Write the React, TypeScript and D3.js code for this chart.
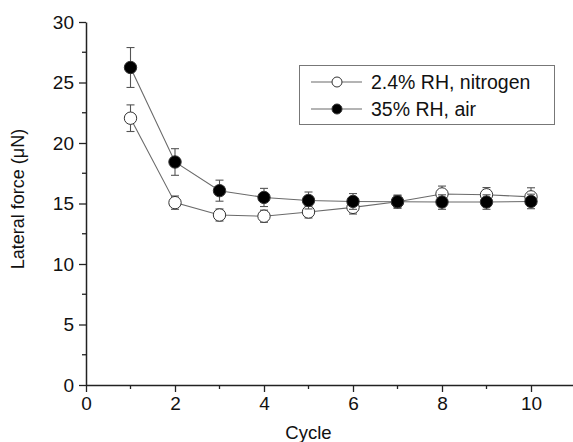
import React, { useEffect, useRef } from "react";
import * as d3 from "d3";

const cycles = [1, 2, 3, 4, 5, 6, 7, 8, 9, 10];
const nitrogen = [22.05, 15.07, 14.05, 13.95, 14.3, 14.68, 15.15, 15.79, 15.72, 15.55];
const nitrogenErr = [1.1, 0.55, 0.5, 0.5, 0.5, 0.55, 0.5, 0.65, 0.6, 0.75];
const air = [26.24, 18.43, 16.06, 15.5, 15.25, 15.17, 15.15, 15.12, 15.12, 15.17];
const airErr = [1.65, 1.1, 0.87, 0.75, 0.7, 0.65, 0.55, 0.6, 0.6, 0.6];
const xTicks = [0, 2, 4, 6, 8, 10];
const xMinor = [1, 3, 5, 7, 9];
const yTicks = [0, 5, 10, 15, 20, 25, 30];
const yMinor = [2.5, 7.5, 12.5, 17.5, 22.5, 27.5];
const seriesNames = ["2.4% RH, nitrogen", "35% RH, air"];

const W = 573;
const H = 442;
const FONT = "'Liberation Sans', Arial, sans-serif";

export default function App() {
  const ref = useRef<SVGSVGElement | null>(null);

  useEffect(() => {
    const svg = d3.select(ref.current);
    svg.selectAll("*").remove();

    const x = d3.scaleLinear().domain([0, 11]).range([86, 86 + 44.5 * 11]);
    const y = d3.scaleLinear().domain([0, 30]).range([385, 22]);
    const axisColor = "#222";

    // X axis
    const gx = svg.append("g").attr("transform", `translate(0,${y(0)})`);
    gx.call(
      d3.axisBottom(x).tickValues(xTicks).tickSize(7).tickSizeOuter(0).tickPadding(5).tickFormat(d3.format("d"))
    );
    const gxm = svg.append("g").attr("transform", `translate(0,${y(0)})`);
    gxm.selectAll("line").data(xMinor).enter().append("line")
      .attr("x1", d => x(d)).attr("x2", d => x(d)).attr("y1", 0).attr("y2", 4)
      .attr("stroke", axisColor).attr("stroke-width", 1.3);

    // Y axis
    const gy = svg.append("g").attr("transform", `translate(${x(0)},0)`);
    gy.call(
      d3.axisLeft(y).tickValues(yTicks).tickSize(7).tickSizeOuter(0).tickPadding(5).tickFormat(d3.format("d"))
    );
    const gym = svg.append("g").attr("transform", `translate(${x(0)},0)`);
    gym.selectAll("line").data(yMinor).enter().append("line")
      .attr("x1", 0).attr("x2", -4).attr("y1", d => y(d)).attr("y2", d => y(d))
      .attr("stroke", axisColor).attr("stroke-width", 1.3);

    [gx, gy].forEach(g => {
      g.select(".domain").attr("stroke", axisColor).attr("stroke-width", 1.5);
      g.selectAll(".tick line").attr("stroke", axisColor).attr("stroke-width", 1.3);
      g.selectAll(".tick text").attr("fill", "#111").attr("font-size", 19).attr("font-family", FONT);
    });

    // Axis titles
    svg.append("text")
      .attr("x", x(5)).attr("y", 439)
      .attr("text-anchor", "middle").attr("font-family", FONT).attr("font-size", 18.5).attr("fill", "#111")
      .text("Cycle");
    svg.append("text")
      .attr("transform", `translate(24,${(130 + 268) / 2}) rotate(-90)`)
      .attr("text-anchor", "middle").attr("font-family", FONT).attr("font-size", 18).attr("fill", "#111")
      .text("Lateral force (\u03bcN)");

    const lineColor = "#6a6a6a";
    const drawSeries = (vals: number[], errs: number[], fill: string) => {
      const g = svg.append("g");
      const line = d3.line<number>().x((_, i) => x(cycles[i])).y(d => y(d));
      g.append("path").attr("d", line(vals)).attr("fill", "none")
        .attr("stroke", lineColor).attr("stroke-width", 1.1);
      const eb = g.selectAll("g.eb").data(vals).enter().append("g");
      eb.append("line")
        .attr("x1", (_, i) => x(cycles[i])).attr("x2", (_, i) => x(cycles[i]))
        .attr("y1", (d, i) => y(d + errs[i])).attr("y2", (d, i) => y(d - errs[i]))
        .attr("stroke", "#555").attr("stroke-width", 1.1);
      [1, -1].forEach(s => {
        eb.append("line")
          .attr("x1", (_, i) => x(cycles[i]) - 4).attr("x2", (_, i) => x(cycles[i]) + 4)
          .attr("y1", (d, i) => y(d + s * errs[i])).attr("y2", (d, i) => y(d + s * errs[i]))
          .attr("stroke", "#555").attr("stroke-width", 1.1);
      });
      g.selectAll("circle").data(vals).enter().append("circle")
        .attr("cx", (_, i) => x(cycles[i])).attr("cy", d => y(d)).attr("r", 6.2)
        .attr("fill", fill).attr("stroke", "#333").attr("stroke-width", 1);
    };
    drawSeries(nitrogen, nitrogenErr, "#fff");
    drawSeries(air, airErr, "#000");

    // Legend
    const lg = svg.append("g");
    lg.append("rect").attr("x", 299.5).attr("y", 65.5).attr("width", 255).attr("height", 59)
      .attr("fill", "#fff").attr("stroke", "#777").attr("stroke-width", 1);
    const fills = ["#fff", "#000"];
    const rows = [82, 109];
    seriesNames.forEach((name, i) => {
      lg.append("line").attr("x1", 311).attr("x2", 362).attr("y1", rows[i]).attr("y2", rows[i])
        .attr("stroke", lineColor).attr("stroke-width", 1.1);
      lg.append("circle").attr("cx", 337).attr("cy", rows[i]).attr("r", 5)
        .attr("fill", fills[i]).attr("stroke", "#333").attr("stroke-width", 1);
      lg.append("text").attr("x", 371).attr("y", rows[i]).attr("dy", "0.35em")
        .attr("font-family", FONT).attr("font-size", 19.5).attr("fill", "#111")
        .text(name);
    });
  }, []);

  return (
    <svg ref={ref} width={W} height={H}
      style={{ position: "absolute", left: 0, top: 0, background: "#fff" }} />
  );
}
